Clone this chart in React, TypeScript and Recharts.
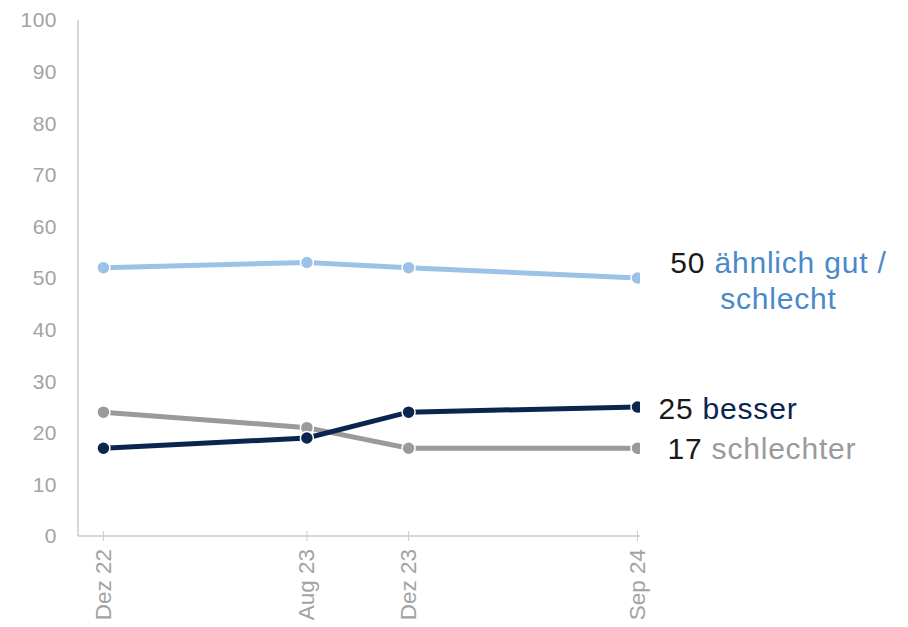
import React from "react";
import { LineChart, Line, XAxis, YAxis } from "recharts";

const monthIndex = [0, 8, 12, 21];
const tickLabels = ["Dez 22", "Aug 23", "Dez 23", "Sep 24"];
const aehnlich = [52, 53, 52, 50];
const besser = [17, 19, 24, 25];
const schlechter = [24, 21, 17, 17];
const yTicks = [0, 10, 20, 30, 40, 50, 60, 70, 80, 90, 100];

const data = monthIndex.map((m, i) => ({
  m,
  a: aehnlich[i],
  b: besser[i],
  c: schlechter[i],
}));

const FONT = "'Liberation Sans', Arial, sans-serif";
const TICK_GREY = "#a3a3a3";
const AXIS_GREY = "#cacaca";
const C_LIGHT = "#9cc3e6";
const C_LIGHT_TXT = "#4a89c9";
const C_NAVY = "#0b2550";
const C_GREY = "#9a9a9c";
const NUM = "#1a1a1a";

const labelMap: Record<number, string> = {};
monthIndex.forEach((m, i) => (labelMap[m] = tickLabels[i]));

const XTick = (props: any) => {
  const { x, y, payload } = props;
  return (
    <g>
      <line x1={x} x2={x} y1={y - 5} y2={y + 5} stroke={AXIS_GREY} strokeWidth={1} />
      <text
        x={x}
        y={y + 13}
        transform={`rotate(-90, ${x}, ${y + 13})`}
        textAnchor="end"
        dominantBaseline="central"
        fill={TICK_GREY}
        fontSize={22.5}
        fontFamily={FONT}
      >
        {labelMap[payload.value]}
      </text>
    </g>
  );
};

const last = monthIndex.length - 1;
const LFS = 30;
const LS = 0.8;

const labelA = (p: any) => {
  if (p.index !== last) return null;
  return (
    <g>
      <text x={p.x + 141} y={p.y - 16} textAnchor="middle" dominantBaseline="central" fontSize={LFS} letterSpacing={LS} fontFamily={FONT}>
        <tspan fill={NUM}>{p.value} </tspan>
        <tspan fill={C_LIGHT_TXT}>ähnlich gut /</tspan>
      </text>
      <text x={p.x + 141} y={p.y + 20} textAnchor="middle" dominantBaseline="central" fontSize={LFS} letterSpacing={LS} fontFamily={FONT} fill={C_LIGHT_TXT}>
        schlecht
      </text>
    </g>
  );
};

const labelB = (p: any) => {
  if (p.index !== last) return null;
  return (
    <text x={p.x + 21} y={p.y + 1} textAnchor="start" dominantBaseline="central" fontSize={LFS} letterSpacing={LS} fontFamily={FONT}>
      <tspan fill={NUM}>{p.value} </tspan>
      <tspan fill={C_NAVY}>besser</tspan>
    </text>
  );
};

const labelC = (p: any) => {
  if (p.index !== last) return null;
  return (
    <text x={p.x + 30} y={p.y} textAnchor="start" dominantBaseline="central" fontSize={LFS} letterSpacing={LS} fontFamily={FONT}>
      <tspan fill={NUM}>{p.value} </tspan>
      <tspan fill={C_GREY}>schlechter</tspan>
    </text>
  );
};

export default function App() {
  return (
    <LineChart
      width={900}
      height={619}
      data={data}
      margin={{ top: 12, right: 268, bottom: 0, left: 10 }}
      style={{ fontFamily: FONT }}
    >
      <XAxis
        dataKey="m"
        type="number"
        domain={[-1, 21.1]}
        ticks={monthIndex}
        allowDataOverflow
        height={91}
        tickSize={0}
        tickMargin={0}
        tick={<XTick />}
        axisLine={{ stroke: AXIS_GREY, strokeWidth: 1.5 }}
        tickLine={false}
        interval={0}
      />
      <YAxis
        type="number"
        domain={[0, 100]}
        ticks={yTicks}
        width={60}
        tickLine={false}
        tickMargin={15}
        axisLine={{ stroke: AXIS_GREY, strokeWidth: 1.5 }}
        tick={{ fill: TICK_GREY, fontSize: 21, fontFamily: FONT, letterSpacing: 0.5 }}
        interval={0}
      />
      <Line
        dataKey="a"
        stroke={C_LIGHT}
        strokeWidth={5}
        dot={{ r: 6.5, fill: C_LIGHT, stroke: "#fff", strokeWidth: 1.5 }}
        isAnimationActive={false}
        label={labelA}
      />
      <Line
        dataKey="c"
        stroke={C_GREY}
        strokeWidth={5}
        dot={{ r: 6.5, fill: C_GREY, stroke: "#fff", strokeWidth: 1.5 }}
        isAnimationActive={false}
        label={labelC}
      />
      <Line
        dataKey="b"
        stroke={C_NAVY}
        strokeWidth={5}
        dot={{ r: 6.5, fill: C_NAVY, stroke: "#fff", strokeWidth: 1.5 }}
        isAnimationActive={false}
        label={labelB}
      />
    </LineChart>
  );
}
